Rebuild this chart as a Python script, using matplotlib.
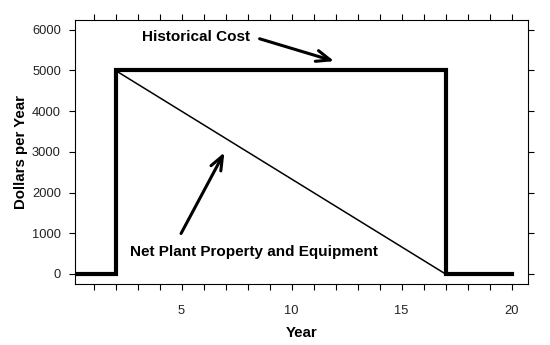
import matplotlib
matplotlib.use("Agg")
import matplotlib.pyplot as plt

plt.rcParams['font.family'] = ['Liberation Sans', 'DejaVu Sans']

# Data
cost_x = [0, 2, 2, 17, 17, 20]
cost_y = [0, 0, 5000, 5000, 0, 0]
net_x = [2, 17]
net_y = [5000, 0]
x_ticks = list(range(1, 21))
x_labels = [str(v) if v % 5 == 0 else '' for v in x_ticks]
y_ticks = [0, 1000, 2000, 3000, 4000, 5000, 6000]

fig = plt.figure(figsize=(5.5, 3.45), dpi=100)
ax = fig.add_axes([0.136, 0.177, 0.824, 0.765])

ax.plot(cost_x, cost_y, color='black', lw=3.0, solid_joinstyle='miter')
ax.plot(net_x, net_y, color='black', lw=1.1)

ax.set_xlim(0.15, 20.75)
ax.set_ylim(-245, 6240)

ax.set_xticks(x_ticks)
ax.set_xticklabels(x_labels)
ax.set_yticks(y_ticks)
ax.tick_params(direction='out', length=4, width=0.8, top=True, right=True,
               labelsize=9.3, labelcolor='#222222')
ax.tick_params(axis='x', pad=11)
ax.tick_params(axis='y', pad=6)
for s in ax.spines.values():
    s.set_linewidth(0.8)

ax.set_xlabel('Year', fontsize=10.8, fontweight='bold', labelpad=7)
ax.set_ylabel('Dollars per Year', fontsize=10.8, fontweight='bold', labelpad=3)

ax.annotate('', xy=(12.06, 5209), xytext=(8.43, 5799),
            arrowprops=dict(arrowstyle='->,head_length=1.0,head_width=0.4', lw=2.2, color='black'))
ax.text(3.2, 5823, 'Historical Cost', fontsize=11, fontweight='bold', va='center', ha='left')

ax.annotate('', xy=(7.01, 3047), xytext=(4.92, 934),
            arrowprops=dict(arrowstyle='->,head_length=1.0,head_width=0.4', lw=2.2, color='black'))
ax.text(2.65, 540, 'Net Plant Property and Equipment', fontsize=11, fontweight='bold',
        va='center', ha='left')

fig.savefig('out.png', dpi=100)
